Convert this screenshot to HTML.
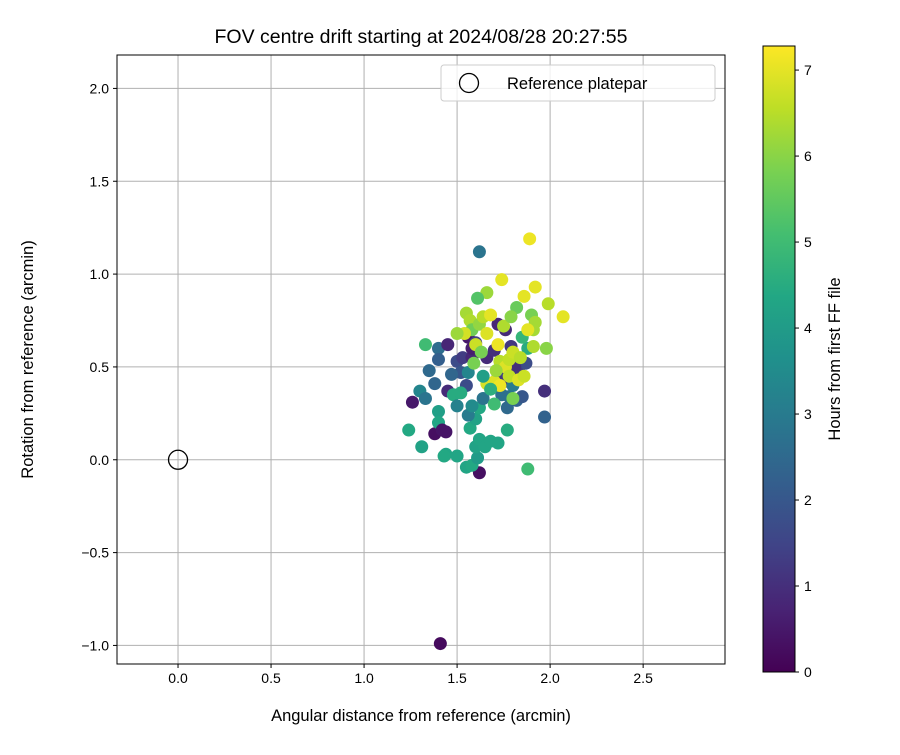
<!DOCTYPE html>
<html><head><meta charset="utf-8"><style>
body{margin:0;background:#fff}
text{font-family:"Liberation Sans","DejaVu Sans",sans-serif;fill:#000}
</style></head><body>
<svg id="c" width="900" height="750" xmlns="http://www.w3.org/2000/svg"></svg>
<script>
const xs=[1.62,1.89,1.74,1.92,1.86,1.99,2.07,1.66,1.61,1.82,1.90,1.92,1.91,1.98,1.97,1.97,1.88,1.62,1.41,1.33,1.40,1.40,1.35,1.30,1.33,1.38,1.26,1.24,1.31,1.38,1.40,1.40,1.45,1.45,1.50,1.48,1.50,1.44,1.42,1.44,1.43,1.50,1.55,1.58,1.61,1.60,1.62,1.65,1.68,1.72,1.77,1.57,1.60,1.56,1.62,1.58,1.64,1.55,1.52,1.56,1.53,1.58,1.58,1.56,1.60,1.66,1.70,1.72,1.76,1.79,1.74,1.72,1.75,1.80,1.78,1.74,1.77,1.82,1.85,1.83,1.87,1.81,1.88,1.80,1.55,1.57,1.58,1.62,1.64,1.66,1.68,1.54,1.50,1.59,1.60,1.63,1.66,1.70,1.72,1.73,1.76,1.78,1.80,1.78,1.83,1.86,1.75,1.79,1.85,1.88,1.84,1.73,1.70,1.68,1.64,1.71,1.91,1.47,1.52];
const ys=[1.12,1.19,0.97,0.93,0.88,0.84,0.77,0.90,0.87,0.82,0.78,0.74,0.70,0.60,0.37,0.23,-0.05,-0.07,-0.99,0.62,0.60,0.54,0.48,0.37,0.33,0.41,0.31,0.16,0.07,0.14,0.26,0.20,0.37,0.62,0.53,0.35,0.29,0.15,0.16,0.03,0.02,0.02,-0.04,-0.03,0.01,0.07,0.11,0.07,0.10,0.09,0.16,0.17,0.22,0.24,0.28,0.29,0.33,0.40,0.47,0.47,0.55,0.55,0.60,0.66,0.63,0.55,0.59,0.73,0.70,0.61,0.52,0.45,0.42,0.40,0.34,0.35,0.28,0.32,0.34,0.48,0.52,0.50,0.60,0.33,0.79,0.75,0.70,0.73,0.77,0.68,0.78,0.68,0.68,0.52,0.62,0.58,0.41,0.42,0.62,0.53,0.50,0.54,0.58,0.45,0.43,0.45,0.72,0.77,0.66,0.70,0.55,0.40,0.30,0.38,0.45,0.48,0.61,0.46,0.36];
const hours=[2.8,7.1,7.0,7.0,7.0,6.5,7.0,6.2,5.3,5.6,5.8,6.3,6.3,6.0,1.0,2.3,5.0,0.3,0.2,5.0,2.6,2.2,2.5,3.3,2.8,2.4,0.5,4.4,4.2,0.3,4.1,4.3,0.9,0.8,1.7,4.5,3.2,0.4,0.4,4.3,4.4,4.3,4.3,4.4,4.0,4.2,4.3,4.3,4.3,4.3,4.5,4.4,4.2,3.0,4.4,3.5,2.8,1.7,2.0,3.3,1.3,0.8,0.6,0.5,1.4,0.9,1.0,0.8,0.9,1.2,1.1,1.5,1.2,3.0,2.8,2.7,2.5,2.3,2.0,1.3,1.7,1.0,4.5,5.8,6.3,6.4,5.7,6.1,6.5,6.9,7.0,6.8,6.2,5.8,6.7,5.8,6.8,6.9,7.1,6.5,6.9,6.6,6.7,6.6,6.9,6.7,6.4,6.0,4.8,7.0,6.5,7.1,5.0,4.6,4.1,6.2,6.4,2.4,4.5];
const xTicks=[0,0.5,1,1.5,2,2.5];
const yTicks=[-1,-0.5,0,0.5,1,1.5,2];
const cTicks=[0,1,2,3,4,5,6,7];
const xLabels=["0.0","0.5","1.0","1.5","2.0","2.5"];
const yLabels=["\u22121.0","\u22120.5","0.0","0.5","1.0","1.5","2.0"];

const L=117,R=725,T=55,B=664;
const xmin=-0.328,xmax=2.94,ymin=-1.10,ymax=2.18;
const X=v=>L+(v-xmin)/(xmax-xmin)*(R-L);
const Y=v=>B-(v-ymin)/(ymax-ymin)*(B-T);
const cmax=7.28, cTop=46, cBot=672;
const CY=v=>cBot-v/cmax*(cBot-cTop);
const vir=[[68,1,84],[72,35,116],[64,67,135],[52,94,141],[41,120,142],[32,144,140],[34,167,132],[68,190,112],[121,209,81],[189,222,38],[253,231,37]];
function col(h){let t=Math.max(0,Math.min(1,h/cmax))*10;let i=Math.min(9,Math.floor(t)),f=t-i;const a=vir[i],b=vir[i+1];return `rgb(${a.map((v,k)=>Math.round(v+(b[k]-v)*f)).join(',')})`;}
const svg=document.getElementById('c');const NS='http://www.w3.org/2000/svg';
function el(tag,attrs,parent){const e=document.createElementNS(NS,tag);for(const k in attrs)e.setAttribute(k,attrs[k]);(parent||svg).appendChild(e);return e;}
function txt(s,attrs){const e=el('text',attrs);e.textContent=s;return e;}

xTicks.forEach((v,i)=>{const g=el('line',{x1:X(v),x2:X(v),y1:T,y2:B,stroke:'#b0b0b0','stroke-width':1});


const t=el('line',{x1:X(v),x2:X(v),y1:B,y2:B+4,stroke:'#000'});


const l=txt(xLabels[i],{x:X(v),y:B+19,'font-size':14,'text-anchor':'middle'});

});
yTicks.forEach((v,i)=>{const g=el('line',{x1:L,x2:R,y1:Y(v),y2:Y(v),stroke:'#b0b0b0','stroke-width':1});


const t=el('line',{x1:L-4,x2:L,y1:Y(v),y2:Y(v),stroke:'#000'});


const l=txt(yLabels[i],{x:L-8,y:Y(v)+5,'font-size':14,'text-anchor':'end'});

});

xs.forEach((x,i)=>{const c=el('circle',{cx:X(x),cy:Y(ys[i]),r:6.5,fill:col(hours[i])});

});
const ref=el('circle',{cx:X(0),cy:Y(0),r:9.5,fill:'none',stroke:'#000','stroke-width':1.3});



const frame=el('rect',{x:L,y:T,width:R-L,height:B-T,fill:'none',stroke:'#000','stroke-width':1});



const lg=el('rect',{x:441,y:65,width:274,height:36,rx:3,fill:'#fff','fill-opacity':0.8,stroke:'#ccc'});


const lm=el('circle',{cx:469,cy:83,r:9.5,fill:'none',stroke:'#000','stroke-width':1.3});


const lt=txt('Reference platepar',{x:507,y:89,'font-size':16.5});



const tt=txt('FOV centre drift starting at 2024/08/28 20:27:55',{x:421,y:43,'font-size':19.5,'text-anchor':'middle'});


const xt=txt('Angular distance from reference (arcmin)',{x:421,y:721,'font-size':16.5,'text-anchor':'middle'});


const yt=txt('Rotation from reference (arcmin)',{x:0,y:0,'font-size':16.5,'text-anchor':'middle',transform:`translate(33,${(T+B)/2}) rotate(-90)`});



const defs=el('defs',{});const gr=el('linearGradient',{id:'vg',x1:0,y1:1,x2:0,y2:0},defs);
vir.forEach((c,i)=>el('stop',{offset:i/10,'stop-color':`rgb(${c.join(',')})`},gr));
const cb=el('rect',{x:763,y:cTop,width:32,height:cBot-cTop,fill:'url(#vg)',stroke:'#000','stroke-width':1});


cTicks.forEach(v=>{const t=el('line',{x1:795,x2:799,y1:CY(v),y2:CY(v),stroke:'#000'});


const l=txt(String(v),{x:804,y:CY(v)+5,'font-size':14});

});
const ct=txt('Hours from first FF file',{x:0,y:0,'font-size':16.5,'text-anchor':'middle',transform:`translate(840,${(cTop+cBot)/2}) rotate(-90)`});


</script>
</body></html>
